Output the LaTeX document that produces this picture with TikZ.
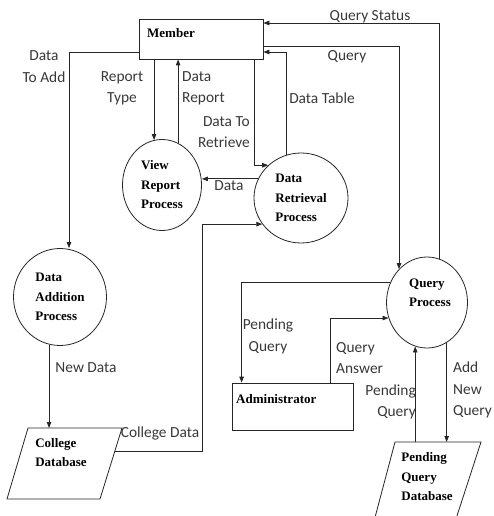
\documentclass[tikz,border=0pt]{standalone}
\usepackage{fontspec}
\setmainfont{Carlito}
\newfontfamily\dfdserif{Liberation Serif}
\usetikzlibrary{arrows.meta,calc,shapes.geometric}

\newcommand{\dfdbold}{\dfdserif\bfseries\fontsize{13}{19.5}\selectfont}
\newcommand{\dfdlabel}{\fontsize{15.4}{21.5}\selectfont}

\tikzset{
  flow/.style={draw=black!85, line width=0.8pt, -{Triangle[length=6pt,width=4.5pt]}},
  proc/.style={ellipse, draw=black!85, line width=0.8pt, inner sep=0pt, align=left, font=\dfdbold},
  extent/.style={rectangle, draw=black!85, line width=0.8pt, inner sep=0pt},
  store/.style={draw=black!85, line width=0.8pt},
  nametxt/.style={font=\dfdbold, inner sep=0pt, align=left},
  flowtxt/.style={font=\dfdlabel, text=black!78, inner sep=0pt}
}

\begin{document}
\begin{tikzpicture}[x=1pt,y=-1pt]
\useasboundingbox (0,0) rectangle (493,516);
\clip (0,0) rectangle (493,516);

%---------------------------------------------------------------------------------------- ENTIDADES
\node[extent, minimum width=124pt, minimum height=40pt] (member) at (201,39) {};
\node[nametxt, anchor=west] (membertxt) at (147,33) {Member};

\node[extent, minimum width=121pt, minimum height=47pt] (admin) at (292.5,406.5) {};
\node[nametxt, anchor=west] (admintxt) at (236,399) {Administrator};

%---------------------------------------------------------------------------------------- PROCESOS
\node[proc, minimum width=79pt, minimum height=91pt] (view) at (162,185) {View\\Report\\Process};
\node[proc, minimum width=94pt, minimum height=90pt] (retrieve) at (301,198) {Data\\Retrieval\\Process};
\node[proc, minimum width=93pt, minimum height=97pt] (addition) at (60,297) {Data\\Addition\\Process};
\node[proc, minimum width=81pt, minimum height=91pt] (query) at (427,302.5) {};
\node[nametxt] (querytxt) at (430,293) {Query\\Process};   %--------------------------- texto arriba del centro

%---------------------------------------------------------------------------------------- ALMACENES
\draw[store] (28,428) coordinate (collegeNW) -- (122,428) coordinate (collegeNE)
             -- (100,499) coordinate (collegeSE) -- (7,499) -- cycle;
\coordinate (collegeE) at ($(collegeNE)!0.324!(collegeSE)$);
\node[nametxt] (collegetxt) at (61,452.5) {College\\Database};

\draw[store] (395,442) coordinate (pendingNW) -- (481,442) coordinate (pendingNE)
             -- (454,525) -- (373,525) -- cycle;
\node[nametxt] (pendingtxt) at (427,477) {Pending\\Query\\Database};

%---------------------------------------------------------------------------------------- FLUJOS MEMBER
\draw[flow] (member.west |- 0,52) -| (addition.north -| 69,0);          % Data To Add
\draw[flow] (view.100 |- member.south) -- (view.100);                   % Report Type
\draw[flow] (view.69) -- (view.69 |- member.south);                     % Data Report
\draw[flow] (member.south -| 254,0) |- (retrieve.135);                  % Data To Retrieve
\draw[flow] (retrieve.109) |- (member.east |- 0,52);                    % Data Table
\draw[flow] (member.east |- 0,46) -| (query.130);                       % Query
\draw[flow] (query.74) |- (member.east |- 0,23);                        % Query Status

%---------------------------------------------------------------------------------------- FLUJOS DATOS
\draw[flow] (retrieve.156) -- (view.east |- retrieve.156);              % Data
\draw[flow] (collegeE) -| (view.east |- retrieve.214) -- (retrieve.214); % College Data
\draw[flow] (addition.257) -- (addition.257 |- collegeNW);              % New Data

%---------------------------------------------------------------------------------------- FLUJOS QUERY
\draw[flow] (query.152) -| ($(admin.north west)+(10,0)$);               % Pending Query
\draw[flow] ($(admin.north east)+(-23,0)$) |- (query.202);              % Query Answer
\draw[flow] (query.255 |- pendingNW) -- (query.255);                    % Pending Query
\draw[flow] (query.296) -- (query.296 |- pendingNW);                    % Add New Query

%---------------------------------------------------------------------------------------- ETIQUETAS
\node[flowtxt, align=center] (lbladd) at (44,66.5) {Data\\To Add};
\node[flowtxt, align=center] (lbltype) at (122,88.5) {Report\\Type};
\node[flowtxt, align=left, anchor=west] (lblreport) at (182,88.5) {Data\\Report};
\node[flowtxt, align=right, anchor=east] (lblretrieve) at (250,132) {Data To\\Retrieve};
\node[flowtxt] (lbltable) at (322,98) {Data Table};
\node[flowtxt] (lblquery) at (347,57) {Query};
\node[flowtxt] (lblstatus) at (370,17) {Query Status};
\node[flowtxt] (lbldata) at (229,186) {Data};
\node[flowtxt] (lblnew) at (86,368) {New Data};
\node[flowtxt] (lblcollege) at (160,433) {College Data};
\node[flowtxt, align=center] (lblpending) at (268,336.5) {Pending\\Query};
\node[flowtxt, align=left, anchor=west] (lblanswer) at (336,358) {Query\\Answer};
\node[flowtxt, align=right, anchor=east] (lblpendback) at (416,402) {Pending\\Query};
\node[flowtxt, align=left, anchor=west] (lbladdnew) at (453,390) {Add\\New\\Query};

\end{tikzpicture}
\end{document}
